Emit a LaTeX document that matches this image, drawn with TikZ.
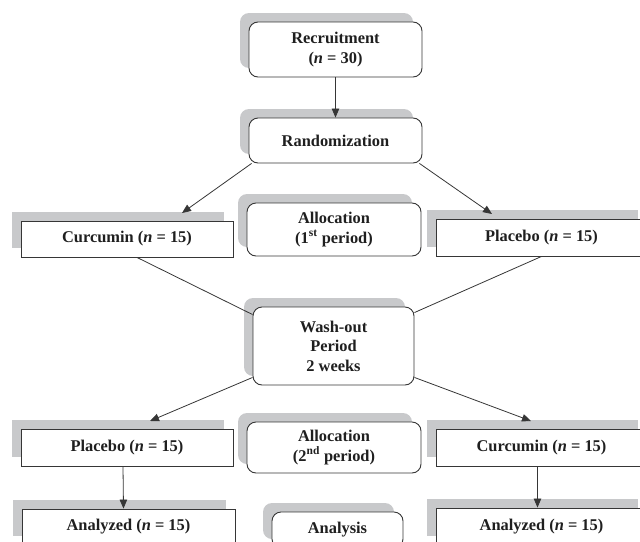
\documentclass[tikz,border=0pt]{standalone}
\usepackage{fontspec}
\setmainfont{Liberation Serif}
\usetikzlibrary{shadows,arrows.meta}
\definecolor{shade}{HTML}{C8C9CB}
\definecolor{edge}{HTML}{363636}

\begin{document}
\begin{tikzpicture}[x=1pt,y=-1pt,
  >={Triangle[length=9pt,width=7.5pt]},
  every node/.style={font=\fontsize{16.4}{19.5}\selectfont\bfseries, align=center, text=black!88},
  box/.style={draw=edge, line width=0.9pt, fill=white, inner sep=0pt,
    general shadow={fill=shade, shadow xshift=-9pt, shadow yshift=9pt}},
  roundbox/.style={box, rounded corners=9pt},
  link/.style={draw=edge, line width=0.8pt}]
\useasboundingbox (0,0) rectangle (640,541);

\node[roundbox, minimum width=173pt, minimum height=55pt] (recruit) at (335.5,49.5) {Recruitment\\(\textit{n} = 30)};
\node[roundbox, minimum width=173pt, minimum height=45pt] (random) at (335.5,140.5) {Randomization};

\node[box, minimum width=212pt, minimum height=36pt] (curc1) at (127,239) {Curcumin (\textit{n} = 15)};
\node[roundbox, minimum width=174pt, minimum height=53pt] (alloc1) at (334,229.5) {Allocation\\(1\textsuperscript{st} period)};
\node[box, minimum width=211pt, minimum height=37pt] (plac1) at (541.5,237.5) {Placebo (\textit{n} = 15)};

\node[roundbox, minimum width=161pt, minimum height=78pt] (wash) at (333.5,346) {Wash-out\\Period\\2 weeks};

\node[box, minimum width=212pt, minimum height=37pt] (plac2) at (127,447.5) {Placebo (\textit{n} = 15)};
\node[roundbox, minimum width=174pt, minimum height=51pt] (alloc2) at (334,447.5) {Allocation\\(2\textsuperscript{nd} period)};
\node[box, minimum width=211pt, minimum height=37pt] (curc2) at (541.5,447.5) {Curcumin (\textit{n} = 15)};

\node[box, minimum width=213pt, minimum height=36pt] (anal1) at (128.5,527) {Analyzed (\textit{n} = 15)};
\node[roundbox, minimum width=131pt, minimum height=36pt] (analysis) at (337.5,530) {Analysis};
\node[box, minimum width=211pt, minimum height=37pt] (anal2) at (541.5,526.5) {Analyzed (\textit{n} = 15)};

\coordinate (c1in) at (182,213);
\coordinate (p1in) at (492,214);
\coordinate (p2in) at (150,421);
\coordinate (c2in) at (531,421);

\draw[link,->] (recruit.south) -- (random.north);
\draw[link,->] ([xshift=3pt]random.south west) -- (c1in);
\draw[link,->] ([xshift=-3pt]random.south east) -- (p1in);

\draw[link] ([xshift=10pt]curc1.south) -- ([yshift=-8pt]wash.north west);
\draw[link] (plac1.south) -- ([yshift=-6pt]wash.north east);

\draw[link,->] ([yshift=8pt]wash.south west) -- (p2in);
\draw[link,->] ([yshift=8pt]wash.south east) -- (c2in);

\draw[link,->] ([xshift=-4pt]plac2.south) -- ([xshift=-5pt]anal1.north);
\draw[link,->] ([xshift=-4pt]curc2.south) -- ([xshift=-4pt]anal2.north);
\end{tikzpicture}
\end{document}
